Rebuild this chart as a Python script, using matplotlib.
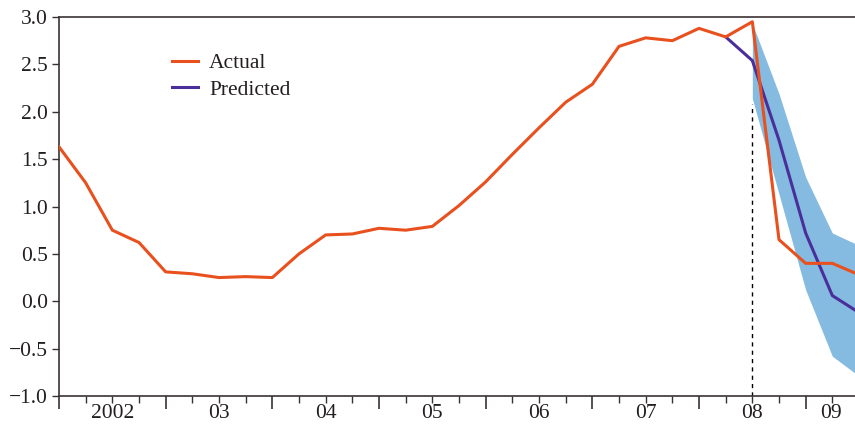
import matplotlib.pyplot as plt
from matplotlib.lines import Line2D

# Quarterly data, index 0 = 2002Q1
quarters = list(range(31))
actual = [1.63, 1.25, 0.75, 0.62, 0.31, 0.29, 0.25, 0.26, 0.25, 0.50,
          0.70, 0.71, 0.77, 0.75, 0.79, 1.01, 1.26, 1.55, 1.83, 2.10,
          2.29, 2.69, 2.78, 2.75, 2.88, 2.79, 2.95, 0.65, 0.40, 0.40,
          0.28]

pred_quarters = [25, 26, 27, 28, 29, 30]
predicted = [2.79, 2.54, 1.70, 0.72, 0.06, -0.12]

band_quarters = [26, 27, 28, 29, 30]
band_upper = [2.93, 2.19, 1.31, 0.72, 0.59]
band_lower = [2.14, 1.13, 0.12, -0.58, -0.79]

year_labels = ['2002', '03', '04', '05', '06', '07', '08', '09']
label_pos = [2, 6, 10, 14, 18, 22, 26, 28.93]

ORANGE = '#e8501e'
PURPLE = '#4a2f9b'
BAND = '#85bbe0'
AXCOL = '#3a3232'
TXT = '#231f20'
FS = 15.5

plt.rcParams['font.family'] = ['Liberation Serif', 'DejaVu Serif']

fig = plt.figure(figsize=(8.55, 4.28), dpi=100)
ax = fig.add_axes([59 / 855, 1 - 396 / 428, 1 - 59 / 855, 379 / 428])

ax.fill_between(band_quarters, band_lower, band_upper, color=BAND, lw=0, zorder=1)
ax.vlines(26, -1.0, 2.08, colors='black', linestyles=(0, (3, 3)), lw=1.0, zorder=2)
ax.plot(pred_quarters, predicted, color=PURPLE, lw=2.2, zorder=3)
ax.plot(quarters, actual, color=ORANGE, lw=2.2, zorder=4)

ax.set_xlim(0, 29.85)
ax.set_ylim(-1.0, 3.0)

ax.set_yticks([-1.0, -0.5, 0.0, 0.5, 1.0, 1.5, 2.0, 2.5, 3.0])
ax.set_yticklabels([f'{v:.1f}'.replace('-', '\u2212') for v in ax.get_yticks()])
ax.set_xticks(range(0, 30, 4))
ax.set_xticks(range(0, 30), minor=True)
ax.set_xticklabels([])

ax.tick_params(axis='y', direction='out', length=5, width=1, color=AXCOL,
               labelsize=FS, labelcolor=TXT, pad=3)
ax.tick_params(axis='x', which='major', direction='out', length=9, width=1.2, color=AXCOL)
ax.tick_params(axis='x', which='minor', direction='out', length=5, width=1, color=AXCOL)

for lab, pos in zip(year_labels, label_pos):
    ax.text(pos, -0.047, lab, transform=ax.get_xaxis_transform(),
            ha='center', va='center', fontsize=FS, color=TXT)

for side in ['left', 'bottom', 'top']:
    ax.spines[side].set_color(AXCOL)
    ax.spines[side].set_linewidth(1.2)
ax.spines['right'].set_visible(False)

handles = [Line2D([], [], color=ORANGE, lw=2.2), Line2D([], [], color=PURPLE, lw=2.2)]
leg = ax.legend(handles, ['Actual', 'Predicted'], loc='upper left',
                bbox_to_anchor=(0.117, 0.955), frameon=False, fontsize=FS,
                handlelength=1.25, handletextpad=0.5, labelspacing=0.28)
for t in leg.get_texts():
    t.set_color(TXT)

fig.savefig('out.png', dpi=100)
